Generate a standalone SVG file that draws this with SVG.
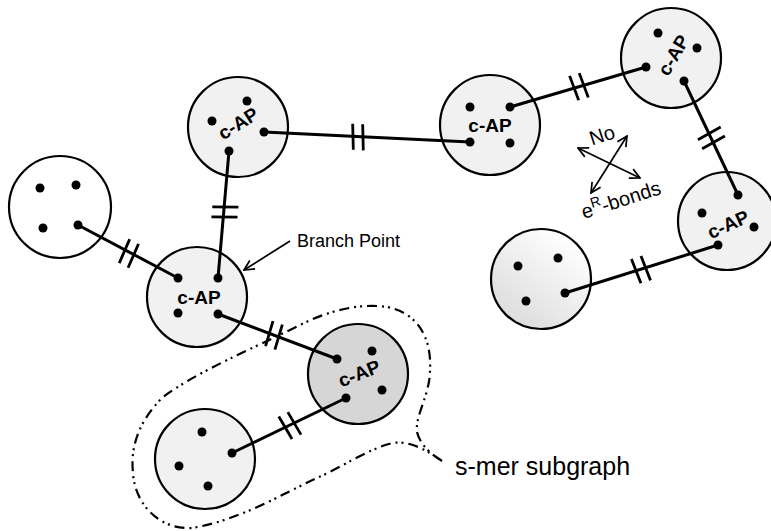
<svg xmlns="http://www.w3.org/2000/svg" xmlns:xlink="http://www.w3.org/1999/xlink" width="771" height="531" viewBox="0 0 771 531">
<style>
.ring{stroke:#000;stroke-width:2.2}
.plain{fill:#fff}
.lt{fill:#f1f1f1}
.dk{fill:#d6d6d6}
.dot{fill:#000}
.edge{stroke:#000;stroke-width:3;fill:none;stroke-linecap:round}
.tick{stroke:#000;stroke-width:2.8;fill:none}
.lbl{font-family:"Liberation Sans",Arial,sans-serif;font-weight:bold;font-size:19px;text-anchor:middle;fill:#000}
.txt{font-family:"Liberation Sans",Arial,sans-serif;fill:#000}
.s18{font-size:18px}
.s20{font-size:20px}
.s25{font-size:25px}
.thin{stroke:#000;stroke-width:1.7;fill:none}
.lasso{stroke:#000;stroke-width:2.2;fill:none;stroke-dasharray:10 5 2 4 2 5}
</style>
<defs>
<path id="tick" d="M-5,-13 L-3,13 M5,-13 L7,13"/>
<marker id="open" viewBox="0 0 12 12" refX="11" refY="6" markerWidth="12" markerHeight="12" markerUnits="userSpaceOnUse" orient="auto-start-reverse">
<path d="M1,1 L11,6 L1,11" fill="none" stroke="#000" stroke-width="1.7"/>
</marker>
<linearGradient id="gG" x1="0.8" y1="0.1" x2="0.2" y2="0.9">
<stop offset="0" stop-color="#ffffff"/>
<stop offset="1" stop-color="#dddddd"/>
</linearGradient>
</defs>

<path class="lasso" d="M442,461 C430,452 410,440 393,443 C370,448 340,468 317,478 C280,495 240,520 192,528 C160,530 135,505 133,473 C130,445 140,420 163,397 C200,370 250,350 300,325 C330,310 360,303 387,307 C415,312 432,335 430,370 C430,395 415,415 417,432 C420,445 432,455 442,461"/>

<g id="nodeA">
<circle class="ring lt" cx="238" cy="127" r="50"/>
<circle class="dot" cx="212" cy="121" r="4.5"/><circle class="dot" cx="247" cy="101" r="4.5"/><circle class="dot" cx="264" cy="132" r="4.5"/><circle class="dot" cx="229" cy="151" r="4.5"/>
<text class="lbl" transform="translate(238,123) rotate(-32)" y="7">c-AP</text>
</g>
<g id="nodeB">
<circle class="ring plain" cx="60" cy="207" r="51"/>
<circle class="dot" cx="40" cy="188" r="4.5"/><circle class="dot" cx="76" cy="185" r="4.5"/><circle class="dot" cx="43" cy="228" r="4.5"/><circle class="dot" cx="78" cy="225" r="4.5"/>
</g>
<g id="nodeC">
<circle class="ring lt" cx="197" cy="297" r="50"/>
<circle class="dot" cx="178" cy="278" r="4.5"/><circle class="dot" cx="218" cy="278" r="4.5"/><circle class="dot" cx="178" cy="313" r="4.5"/><circle class="dot" cx="218" cy="314" r="4.5"/>
<text class="lbl" x="199" y="304">c-AP</text>
</g>
<g id="nodeD">
<circle class="ring lt" cx="490" cy="125" r="50"/>
<circle class="dot" cx="470" cy="107" r="4.5"/><circle class="dot" cx="510" cy="107" r="4.5"/><circle class="dot" cx="470" cy="142" r="4.5"/><circle class="dot" cx="510" cy="143" r="4.5"/>
<text class="lbl" x="490" y="132">c-AP</text>
</g>
<g id="nodeE">
<circle class="ring lt" cx="671" cy="58" r="50"/>
<circle class="dot" cx="658" cy="33" r="4.5"/><circle class="dot" cx="697" cy="48" r="4.5"/><circle class="dot" cx="646" cy="67" r="4.5"/><circle class="dot" cx="684" cy="81" r="4.5"/>
<text class="lbl" transform="translate(673,55) rotate(-60)" y="7">c-AP</text>
</g>
<g id="nodeF">
<circle class="ring lt" cx="727" cy="221" r="49"/>
<circle class="dot" cx="702" cy="213" r="4.5"/><circle class="dot" cx="738" cy="195" r="4.5"/><circle class="dot" cx="754" cy="227" r="4.5"/><circle class="dot" cx="718" cy="245" r="4.5"/>
<text class="lbl" transform="translate(728,224) rotate(-24)" y="7">c-AP</text>
</g>
<g id="nodeG">
<circle class="ring" fill="url(#gG)" cx="541" cy="279" r="50"/>
<circle class="dot" cx="518" cy="266" r="4.5"/><circle class="dot" cx="558" cy="258" r="4.5"/><circle class="dot" cx="526" cy="301" r="4.5"/><circle class="dot" cx="565" cy="293" r="4.5"/>
</g>
<g id="nodeH">
<circle class="ring dk" cx="358" cy="374" r="50"/>
<circle class="dot" cx="337" cy="359" r="4.5"/><circle class="dot" cx="372" cy="351" r="4.5"/><circle class="dot" cx="382" cy="390" r="4.5"/><circle class="dot" cx="346" cy="398" r="4.5"/>
<text class="lbl" transform="translate(359,373) rotate(-22)" y="7">c-AP</text>
</g>
<g id="nodeI">
<circle class="ring lt" cx="205" cy="459" r="50"/>
<circle class="dot" cx="202" cy="432" r="4.5"/><circle class="dot" cx="179" cy="466" r="4.5"/><circle class="dot" cx="208" cy="486" r="4.5"/><circle class="dot" cx="232" cy="453" r="4.5"/>
</g>

<g id="connectors">
<path class="edge" d="M78,225 L178,278"/>
<use class="tick" href="#tick" transform="translate(128,253) rotate(28)"/>
<path class="edge" d="M229,151 L218,278"/>
<use class="tick" href="#tick" transform="translate(225,211) rotate(95)"/>
<path class="edge" d="M264,132 L470,142"/>
<use class="tick" href="#tick" transform="translate(357,137) rotate(3)"/>
<path class="edge" d="M510,107 L646,67"/>
<use class="tick" href="#tick" transform="translate(578,87) rotate(-16)"/>
<path class="edge" d="M684,81 L738,195"/>
<use class="tick" href="#tick" transform="translate(711,137) rotate(65)"/>
<path class="edge" d="M565,293 L718,245"/>
<use class="tick" href="#tick" transform="translate(640,270) rotate(-17)"/>
<path class="edge" d="M218,314 L337,359"/>
<use class="tick" href="#tick" transform="translate(273,335) rotate(21)"/>
<path class="edge" d="M232,453 L346,398"/>
<use class="tick" href="#tick" transform="translate(289,426) rotate(-26)"/>
</g>

<g id="branch-label">
<path class="thin" d="M290,241 L244,270" marker-end="url(#open)"/>
<text class="txt s18" x="297" y="247">Branch Point</text>
</g>

<g id="bond-legend">
<path class="thin" d="M578,148 L640,178" marker-start="url(#open)" marker-end="url(#open)"/>
<path class="thin" d="M627,136 L591,193" marker-start="url(#open)" marker-end="url(#open)"/>
<text class="txt s20" transform="translate(602,135) rotate(-18)" y="7" text-anchor="middle">No</text>
<text class="txt s20" transform="translate(584,219) rotate(-18)">e<tspan style="font-size:14px" dy="-8">R</tspan><tspan dy="8">-bonds</tspan></text>
</g>

<text class="txt s25" x="455" y="475">s-mer subgraph</text>
</svg>
